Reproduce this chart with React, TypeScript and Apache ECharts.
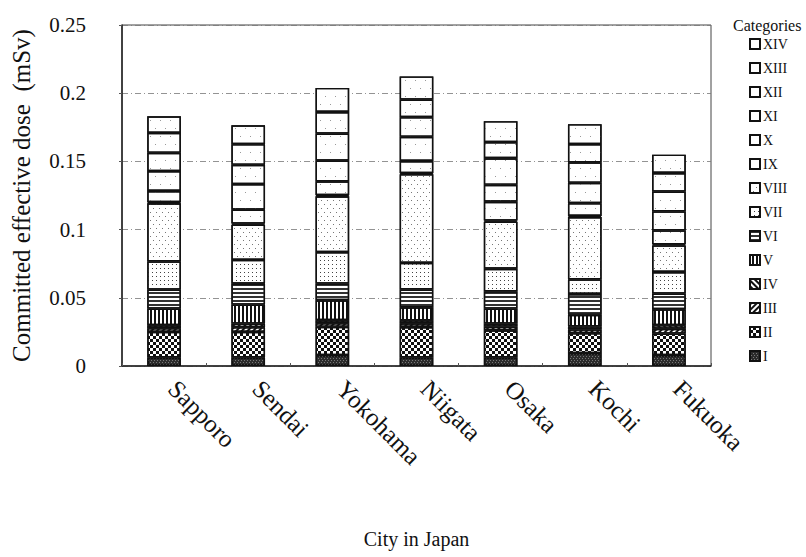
import React, { useEffect, useRef } from "react";
import * as echarts from "echarts";

const cities = ["Sapporo", "Sendai", "Yokohama", "Niigata", "Osaka", "Kochi", "Fukuoka"];
const categories = ["I", "II", "III", "IV", "V", "VI", "VII", "VIII", "IX", "X", "XI", "XII", "XIII", "XIV"];

const catI = [0.0063, 0.0063, 0.008, 0.0063, 0.0063, 0.0095, 0.008];
const catII = [0.0187, 0.0187, 0.0207, 0.0223, 0.0199, 0.0146, 0.0158];
const catIII = [0.0027, 0.0035, 0.0027, 0.0027, 0.0027, 0.0027, 0.0035];
const catIV = [0.0022, 0.0026, 0.0022, 0.0022, 0.0022, 0.0022, 0.0026];
const catV = [0.0122, 0.0139, 0.0146, 0.0095, 0.011, 0.0085, 0.0117];
const catVI = [0.0139, 0.0153, 0.0122, 0.0131, 0.0126, 0.0153, 0.0115];
const catVII = [0.0207, 0.0175, 0.0231, 0.0195, 0.0166, 0.0107, 0.0158];
const catVIII = [0.0426, 0.0258, 0.0409, 0.065, 0.0345, 0.0457, 0.0195];
const catIX = [0.0008, 0.0008, 0.0008, 0.0008, 0.0008, 0.0008, 0.0008];
const catX = [0.0082, 0.0102, 0.0102, 0.0089, 0.0138, 0.0094, 0.0102];
const catXI = [0.0146, 0.0188, 0.0151, 0.0177, 0.0124, 0.0149, 0.0139];
const catXII = [0.0134, 0.0141, 0.0199, 0.0144, 0.0195, 0.015, 0.0146];
const catXIII = [0.0146, 0.0151, 0.0158, 0.0129, 0.0119, 0.0134, 0.0136];
const catXIV = [0.0122, 0.0139, 0.0177, 0.017, 0.0153, 0.0146, 0.0134];

const values = [catI, catII, catIII, catIV, catV, catVI, catVII, catVIII, catIX, catX, catXI, catXII, catXIII, catXIV];

const yTicks = [0, 0.05, 0.1, 0.15, 0.2, 0.25];

const FONT = '"Liberation Serif", "Times New Roman", serif';

const sparse = {
  symbol: "rect",
  symbolSize: 1,
  color: "#9a9a9a",
  dashArrayX: [[1, 9], [0, 5, 1, 4]],
  dashArrayY: [1, 7],
};

const styles: any[] = [
  { color: "#2b2b2b", decal: { symbol: "rect", symbolSize: 1, color: "#777", dashArrayX: [[1, 2], [0, 1, 1, 1]], dashArrayY: [1, 1] } },
  { color: "#ffffff", decal: { symbol: "rect", symbolSize: 1, color: "#111", dashArrayX: [[3, 3], [0, 3, 3, 0]], dashArrayY: [3, 0] } },
  { color: "#ffffff", decal: { symbol: "rect", symbolSize: 1, color: "#111", dashArrayX: [1, 0], dashArrayY: [2, 2], rotation: -Math.PI / 4 } },
  { color: "#ffffff", decal: { symbol: "rect", symbolSize: 1, color: "#111", dashArrayX: [1, 0], dashArrayY: [2, 2], rotation: Math.PI / 4 } },
  { color: "#ffffff", decal: { symbol: "rect", symbolSize: 1, color: "#111", dashArrayX: [1, 0], dashArrayY: [2, 2], rotation: Math.PI / 2 } },
  { color: "#ffffff", decal: { symbol: "rect", symbolSize: 1, color: "#333", dashArrayX: [1, 0], dashArrayY: [2, 2] } },
  { color: "#ffffff", decal: { symbol: "rect", symbolSize: 1, color: "#444", dashArrayX: [1, 3], dashArrayY: [1, 3] } },
  { color: "#ffffff", decal: { symbol: "rect", symbolSize: 1, color: "#777", dashArrayX: [[1, 5], [0, 3, 1, 2]], dashArrayY: [1, 3] } },
  { color: "#ffffff", decal: sparse },
  { color: "#ffffff", decal: sparse },
  { color: "#ffffff", decal: sparse },
  { color: "#ffffff", decal: sparse },
  { color: "#ffffff", decal: sparse },
  { color: "#ffffff", decal: sparse },
];

export default function App() {
  const ref = useRef<HTMLDivElement>(null);
  useEffect(() => {
    if (!ref.current) return;
    const chart = echarts.init(ref.current, undefined, { renderer: "svg" });
    const series = categories.map((name, i) => ({
      name,
      type: "bar",
      stack: "dose",
      barWidth: "40%",
      data: values[i],
      itemStyle: {
        color: styles[i].color,
        decal: styles[i].decal,
        borderColor: "#111",
        borderWidth: 1.4,
      },
      emphasis: { disabled: true },
    }));
    chart.setOption({
      animation: false,
      backgroundColor: "#ffffff",
      textStyle: { fontFamily: FONT, color: "#111" },
      title: {
        text: "Categories",
        left: 733,
        top: 17,
        padding: 0,
        textStyle: { fontFamily: FONT, fontSize: 16, fontWeight: "normal", color: "#111" },
      },
      legend: {
        orient: "vertical",
        left: 749,
        top: 37,
        padding: 0,
        icon: "rect",
        itemWidth: 10,
        itemHeight: 10,
        itemGap: 10,
        data: categories.slice().reverse(),
        textStyle: { fontFamily: FONT, fontSize: 14, color: "#111", lineHeight: 14, padding: [0, 0, 0, -2] },
        selectedMode: false,
      },
      grid: {
        left: 122,
        right: 95,
        top: 25,
        bottom: 191,
        show: true,
        borderColor: "#444",
        borderWidth: 1,
      },
      xAxis: {
        type: "category",
        data: cities,
        name: "City in Japan",
        nameLocation: "middle",
        nameGap: 163,
        nameTextStyle: { fontFamily: FONT, fontSize: 20, color: "#111" },
        axisLine: { lineStyle: { color: "#222", width: 1.5 } },
        axisTick: { show: true, inside: true, length: 3, lineStyle: { color: "#555" } },
        axisLabel: { rotate: -45, margin: 10, padding: [0, 0, 0, 12], fontFamily: FONT, fontSize: 25, color: "#111" },
      },
      yAxis: {
        type: "value",
        min: 0,
        max: 0.25,
        interval: 0.05,
        name: "Committed effective dose\u2002(mSv)",
        nameLocation: "middle",
        nameGap: 88,
        nameTextStyle: { fontFamily: FONT, fontSize: 25, color: "#111" },
        axisLine: { show: true, lineStyle: { color: "#222", width: 1.5 } },
        axisTick: { show: true, length: 3, lineStyle: { color: "#555" } },
        splitLine: { lineStyle: { color: "#777", width: 0.8, type: [6, 3, 1, 3] } },
        axisLabel: {
          margin: 36,
          fontFamily: FONT,
          fontSize: 21,
          color: "#111",
          formatter: (v: number) => (yTicks.includes(Math.round(v * 100) / 100) ? String(Math.round(v * 100) / 100) : ""),
        },
      },
      series,
    });
    return () => chart.dispose();
  }, []);
  return <div ref={ref} style={{ position: "fixed", left: 0, top: 0, width: 806, height: 557 }} />;
}
